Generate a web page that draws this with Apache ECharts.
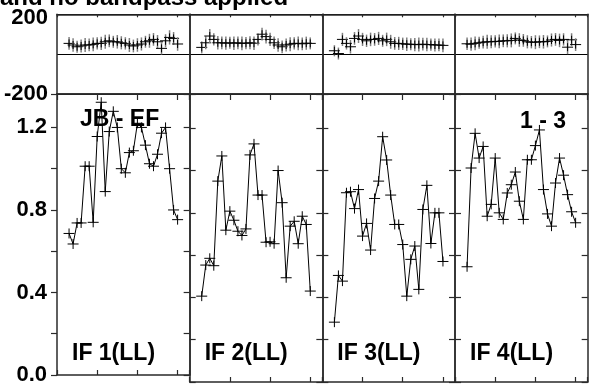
<!DOCTYPE html>
<html><head><meta charset="utf-8">
<script src="https://cdn.jsdelivr.net/npm/echarts@6/dist/echarts.min.js"></script>
<style>html,body{margin:0;padding:0;background:#fff;overflow:hidden}#c{width:591px;height:386px}</style>
</head><body><div id="c"></div>
<script>
// ---- data ----
const titleText = 'and no bandpass applied';
const baselineLabel = 'JB - EF';
const sourceLabel = '1 - 3';
const panelLabels = ['IF 1(LL)', 'IF 2(LL)', 'IF 3(LL)', 'IF 4(LL)'];
const channels = [3,4,5,6,7,8,9,10,11,12,13,14,15,16,17,18,19,20,21,22,23,24,25,26,27,28,29,30];

const ampIF1 = [0.686,0.635,0.737,0.737,1.012,1.012,0.740,1.156,1.322,0.889,1.180,1.278,1.200,1.000,0.980,1.078,1.087,1.220,1.200,1.114,1.024,1.012,1.070,1.172,1.200,1.000,0.800,0.753];
const ampIF2 = [0.406,0.553,0.585,0.550,0.950,1.069,0.718,0.808,0.765,0.713,0.693,0.724,1.074,1.126,0.884,0.884,0.661,0.663,0.654,1.000,0.848,0.493,0.737,0.760,0.654,0.784,0.745,0.430];
const ampIF3 = [0.283,0.504,0.477,0.895,0.900,0.820,0.910,0.690,0.750,0.624,0.868,0.950,1.160,1.050,0.884,0.745,0.745,0.650,0.406,0.580,0.643,0.438,0.816,0.930,0.655,0.800,0.800,0.570];
const ampIF4 = [0.545,1.012,1.176,1.059,1.114,0.784,0.840,1.059,0.800,0.769,0.894,0.933,0.993,0.855,0.769,1.051,1.051,1.118,1.192,0.910,0.795,0.737,0.941,1.059,0.978,0.886,0.805,0.753];

const phaseIF1 = [54,46,37,41,46,46,49,54,54,62,67,62,62,57,54,46,41,46,51,62,67,74,62,29,67,84,79,51];
const phaseIF2 = [34,57,91,74,57,57,55,57,55,57,54,55,57,55,74,100,88,74,57,46,37,46,50,54,54,52,55,54];
const phaseIF3 = [17,3,74,54,37,79,91,74,67,74,74,79,67,74,62,54,54,52,50,50,48,48,50,48,48,46,46,44];
const phaseIF4 = [52,50,54,57,60,62,62,64,64,67,67,69,79,71,69,62,60,60,62,62,64,71,74,69,74,35,72,48];

const phaseErrIF1 = [32,34,30,33,35,32,34,31,33,35,32,30,34,33,31,35,32,34,33,30,35,32,34,31,33,36,32,34];
const phaseErrIF2 = [30,33,35,31,34,32,33,30,34,32,35,31,33,34,30,32,35,33,31,34,32,33,35,31,34,32,33,30];
const phaseErrIF3 = [28,30,33,31,34,32,35,33,31,34,32,33,30,34,35,32,33,31,34,30,33,35,32,34,31,33,32,34];
const phaseErrIF4 = [31,33,34,30,32,35,33,31,34,32,33,35,30,34,32,33,31,35,32,34,30,33,32,34,31,35,33,32];

const xTicks = [0, 10, 20, 30];
const phaseTickLabels = [-200, 200];
const ampTickLabels = [0.0, 0.4, 0.8, 1.2];

const ampSets = [ampIF1, ampIF2, ampIF3, ampIF4];
const phaseSets = [phaseIF1, phaseIF2, phaseIF3, phaseIF4];
const errSets = [phaseErrIF1, phaseErrIF2, phaseErrIF3, phaseErrIF4];

// ---- layout / style ----
const L0 = 57, PW = 132.67;
const PTOP = 14.3, PH = 79.7, ATOP = 94, AH = 288;
const X_MIN = 0, X_MAX = 33, X_INT = 10;
const P_MIN = -200, P_MAX = 200, P_INT = 200;
const A_MIN = 0, A_MAX = 1.362, A_INT = 0.2;
const AXC = '#2a2a2a';
const LABEL_FONT = 'Liberation Sans';

function axisLine(){ return {show:true, onZero:false, lineStyle:{color:AXC, width:1.5}}; }

const grids = [], xAxes = [], yAxes = [], series = [];

function crossRender(hw, hh){
  return function(params, api){
    const p = api.coord([api.value(0), api.value(1)]);
    return {type:'group', children:[
      {type:'line', shape:{x1:p[0]-hw, y1:p[1], x2:p[0]+hw, y2:p[1]}, style:{stroke:'#000', lineWidth:1}},
      {type:'line', shape:{x1:p[0], y1:p[1]-hh, x2:p[0], y2:p[1]+hh}, style:{stroke:'#000', lineWidth:1}}
    ]};
  };
}
function phaseRender(params, api){
  const x = api.value(0), v = api.value(1), e = api.value(2);
  const p = api.coord([x, v]);
  const lo = api.coord([x, v - e]), hi = api.coord([x, v + e]);
  return {type:'group', children:[
    {type:'line', shape:{x1:lo[0], y1:lo[1], x2:hi[0], y2:hi[1]}, style:{stroke:'#808080', lineWidth:1.5}},
    {type:'line', shape:{x1:p[0]-5.5, y1:p[1], x2:p[0]+5.5, y2:p[1]}, style:{stroke:'#000', lineWidth:1}},
    {type:'line', shape:{x1:p[0], y1:p[1]-4, x2:p[0], y2:p[1]+4}, style:{stroke:'#000', lineWidth:1}}
  ]};
}

for (let i = 0; i < 4; i++){
  const left = L0 + i*PW;
  // phase grid
  const gp = grids.length;
  grids.push({left:left, top:PTOP, width:PW, height:PH});
  const gpx = xAxes.length;
  xAxes.push({type:'value', gridIndex:gp, position:'bottom', min:X_MIN, max:X_MAX, interval:X_INT,
    axisLine:axisLine(), axisTick:{show:false}, axisLabel:{show:false}, splitLine:{show:false}});
  xAxes.push({type:'value', gridIndex:gp, position:'top', min:X_MIN, max:X_MAX, interval:X_INT,
    axisLine:axisLine(), axisTick:{show:true, inside:true, length:3, lineStyle:{color:AXC, width:1.2}}, axisLabel:{show:false}, splitLine:{show:false}});
  const gpy = yAxes.length;
  yAxes.push({type:'value', gridIndex:gp, position:'left', min:P_MIN, max:P_MAX, interval:P_INT,
    axisLine:axisLine(), axisTick:{show:false},
    axisLabel:{show:i===0, margin:9, color:'#000', fontFamily:LABEL_FONT, fontWeight:'bold', fontSize:22,
      formatter:function(v){ if (v === phaseTickLabels[1]) return '{t|' + v + '}'; if (v === phaseTickLabels[0]) return String(v); return ''; },
      rich:{t:{padding:[8,0,0,0], fontFamily:LABEL_FONT, fontWeight:'bold', fontSize:22, color:'#000'}}},
    splitLine:{show:true, lineStyle:{color:'#000', width:1}}});
  yAxes.push({type:'value', gridIndex:gp, position:'right', min:P_MIN, max:P_MAX, interval:P_INT,
    axisLine:axisLine(), axisTick:{show:false}, axisLabel:{show:false}, splitLine:{show:false}});

  // amplitude grid
  const ga = grids.length;
  grids.push({left:left, top:ATOP, width:PW, height:AH});
  const gax = xAxes.length;
  xAxes.push({type:'value', gridIndex:ga, position:'bottom', min:X_MIN, max:X_MAX, interval:X_INT,
    axisLine:axisLine(), axisTick:{show:true, inside:true, length:5, lineStyle:{color:AXC, width:1.2}}, axisLabel:{show:false}, splitLine:{show:false}});
  xAxes.push({type:'value', gridIndex:ga, position:'top', min:X_MIN, max:X_MAX, interval:X_INT,
    axisLine:axisLine(), axisTick:{show:true, inside:true, length:6, lineStyle:{color:AXC, width:1.2}}, axisLabel:{show:false}, splitLine:{show:false}});
  const gay = yAxes.length;
  yAxes.push({type:'value', gridIndex:ga, position:'left', min:A_MIN, max:A_MAX, interval:A_INT,
    axisLine:axisLine(), axisTick:{show:true, inside:i!==0, length:6, lineStyle:{color:AXC, width:1.2}},
    axisLabel:{show:i===0, margin:10, color:'#000', fontFamily:LABEL_FONT, fontWeight:'bold', fontSize:22,
      formatter:function(v){ for (const t of ampTickLabels){ if (Math.abs(v - t) < 1e-6) return t.toFixed(1); } return ''; }},
    splitLine:{show:false}});
  yAxes.push({type:'value', gridIndex:ga, position:'right', min:A_MIN, max:A_MAX, interval:A_INT,
    axisLine:axisLine(), axisTick:{show:true, inside:true, length:6, lineStyle:{color:AXC, width:1.2}}, axisLabel:{show:false}, splitLine:{show:false}});

  const amp = ampSets[i], ph = phaseSets[i], er = errSets[i];
  series.push({type:'custom', xAxisIndex:gpx, yAxisIndex:gpy, renderItem:phaseRender, encode:{x:0, y:1},
    data: channels.map((c,k)=>[c, ph[k], er[k]]), silent:true});
  series.push({type:'line', xAxisIndex:gax, yAxisIndex:gay, showSymbol:false, symbol:'none',
    lineStyle:{color:'#000', width:1}, data: channels.map((c,k)=>[c, amp[k]]), silent:true});
  series.push({type:'custom', xAxisIndex:gax, yAxisIndex:gay, renderItem:crossRender(5.5, 5), encode:{x:0, y:1},
    data: channels.map((c,k)=>[c, amp[k]]), silent:true});
}

const graphics = [
  {type:'text', x:0, y:-1.5, style:{text:titleText, font:'bold 24px "Liberation Sans"', fill:'#000', align:'left', verticalAlign:'middle'}},
  {type:'text', x:80, y:120, style:{text:baselineLabel, font:'bold 23px "Liberation Sans"', fill:'#000', align:'left', verticalAlign:'middle'}},
  {type:'text', x:566, y:121.5, style:{text:sourceLabel, font:'bold 23px "Liberation Sans"', fill:'#000', align:'right', verticalAlign:'middle'}}
];
for (let i = 0; i < 4; i++){
  graphics.push({type:'text', x:L0 + i*PW + 15, y:353.5, style:{text:panelLabels[i], font:'bold 23px "Liberation Sans"', fill:'#000', align:'left', verticalAlign:'middle'}});
}

const chart = echarts.init(document.getElementById('c'), null, {renderer:'canvas'});
chart.setOption({
  animation:false,
  backgroundColor:'#fff',
  grid:grids, xAxis:xAxes, yAxis:yAxes, series:series,
  graphic:graphics
});
</script></body></html>
